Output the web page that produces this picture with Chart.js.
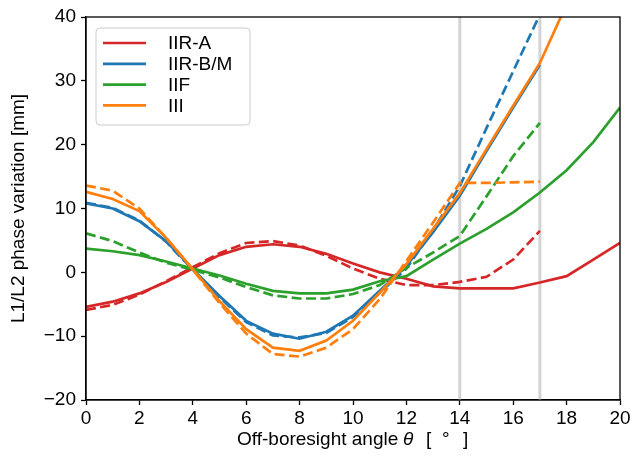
<!DOCTYPE html>
<html>
<head>
<meta charset="utf-8">
<script src="https://cdn.jsdelivr.net/npm/chart.js@4"></script>
<style>
    html, body { margin: 0; padding: 0; background: #fff; }
    #contenedor { width: 633px; height: 461px; }
</style>
</head>
<body>
<div id="contenedor"><canvas id="graficaFase"></canvas></div>
<script>
// angles in degrees
const angles = [0, 1, 2, 3, 4, 5, 6, 7, 8, 9, 10, 11, 12, 13, 14, 15, 16, 17, 18, 19, 20];

// solid = one curve, dashed = the other, per block type (mm)
const iirA      = [-5.4, -4.6, -3.3, -1.5, 0.6, 2.7, 4.0, 4.4, 4.0, 2.9, 1.4, 0.0, -1.0, -2.2, -2.5, -2.5, -2.5, -1.6, -0.6, 2.0, 4.6];
const iirADash  = [-5.9, -5.1, -3.5, -1.4, 0.8, 3.0, 4.6, 4.9, 4.2, 2.6, 0.6, -1.0, -2.0, -2.0, -1.5, -0.7, 2.0, 6.5];
const iirBM     = [10.8, 10.0, 8.0, 4.9, 0.5, -3.7, -7.6, -9.6, -10.4, -9.3, -6.8, -2.9, 1.0, 6.3, 12.0, 19.0, 25.8, 32.5];
const iirBMDash = [10.9, 10.1, 8.1, 4.8, 0.4, -3.9, -7.8, -9.9, -10.2, -9.5, -7.0, -3.2, 0.6, 6.6, 13.5, 22.6, 31.5, 40.4];
const iif       = [3.7, 3.3, 2.7, 1.7, 0.6, -0.5, -1.8, -2.9, -3.3, -3.3, -2.7, -1.4, -0.6, 2.0, 4.5, 6.8, 9.4, 12.5, 16.0, 20.4, 25.8];
const iifDash   = [6.1, 4.9, 3.1, 1.5, 0.4, -0.8, -2.3, -3.6, -4.1, -4.1, -3.4, -2.0, 0.7, 3.1, 5.7, 11.9, 18.2, 23.4];
const iii       = [12.6, 11.5, 9.6, 5.4, 0.5, -4.5, -8.9, -11.8, -12.3, -10.7, -7.6, -3.2, 1.3, 6.8, 12.4, 19.3, 26.1, 32.8, 42.0];
const iiiDash   = [13.6, 12.8, 10.0, 5.4, 0.4, -4.8, -9.6, -12.8, -13.2, -11.8, -8.9, -4.2, 1.8, 7.8, 14.0, 14.0, 14.1, 14.2];

const seriesLabels = ['IIR-A', 'IIR-B/M', 'IIF', 'III'];
const seriesColors = ['#d62728', '#1f77b4', '#2ca02c', '#ff7f0e'];

const markerAngles = [14, 17];
const xTicks = [0, 2, 4, 6, 8, 10, 12, 14, 16, 18, 20];
const yTicks = [-20, -10, 0, 10, 20, 30, 40];

const FONT = "'Liberation Sans', Arial, sans-serif";

function puntos(valores) {
    return valores.map((v, i) => ({ x: angles[i], y: v }));
}

const solidas = [iirA, iirBM, iif, iii];
const discontinuas = [iirADash, iirBMDash, iifDash, iiiDash];

const datasets = [];
markerAngles.forEach((a) => {
    datasets.push({
        label: '',
        data: [{ x: a, y: yTicks[0] }, { x: a, y: yTicks[yTicks.length - 1] }],
        borderColor: '#d3d3d3',
        borderWidth: 3,
        pointRadius: 0,
        order: 100
    });
});
seriesLabels.forEach((nombre, i) => {
    datasets.push({
        label: nombre,
        data: puntos(solidas[i]),
        borderColor: seriesColors[i],
        borderWidth: 2.7,
        pointRadius: 0,
        order: 20 - i * 2
    });
    datasets.push({
        label: nombre + ' (dashed)',
        data: puntos(discontinuas[i]),
        borderColor: seriesColors[i],
        borderWidth: 2.7,
        borderDash: [10, 4.4],
        pointRadius: 0,
        order: 19 - i * 2
    });
});

// legend box inside the plot, top left
const leyenda = {
    id: 'leyenda',
    afterDatasetsDraw(chart) {
        const ctx = chart.ctx;
        const x0 = chart.chartArea.left + 10;
        const y0 = chart.chartArea.top + 11;
        ctx.save();
        ctx.beginPath();
        ctx.roundRect(x0, y0, 154, 97, 4);
        ctx.fillStyle = 'rgba(255,255,255,0.8)';
        ctx.fill();
        ctx.strokeStyle = '#cccccc';
        ctx.lineWidth = 1;
        ctx.stroke();
        ctx.font = '19px ' + FONT;
        ctx.textBaseline = 'middle';
        ctx.fillStyle = '#000';
        seriesLabels.forEach((nombre, i) => {
            const y = y0 + 15 + i * 20.8;
            ctx.beginPath();
            ctx.moveTo(x0 + 7, y);
            ctx.lineTo(x0 + 50, y);
            ctx.strokeStyle = seriesColors[i];
            ctx.lineWidth = 2.7;
            ctx.stroke();
            ctx.fillText(nombre, x0 + 72, y + 1);
        });
        ctx.restore();
    }
};

// frame + x axis title with italic theta (mathtext-like spacing)
const marco = {
    id: 'marco',
    afterDraw(chart) {
        const ctx = chart.ctx;
        const a = chart.chartArea;
        ctx.save();
        ctx.strokeStyle = '#000';
        ctx.lineWidth = 1.3;
        ctx.strokeRect(a.left, a.top, a.right - a.left, a.bottom - a.top);

        const partes = [
            ['Off-boresight angle', 'normal', 0],
            ['θ', 'italic', 166],
            ['[', 'normal', 189],
            ['°', 'normal', 205],
            [']', 'normal', 226]
        ];
        const inicio = (a.left + a.right) / 2 - 116;
        ctx.textBaseline = 'middle';
        ctx.fillStyle = '#000';
        partes.forEach((p) => {
            ctx.font = p[1] + ' 19px ' + FONT;
            ctx.fillText(p[0], inicio + p[2], 440);
        });
        ctx.restore();
    }
};

new Chart(document.getElementById('graficaFase'), {
    type: 'line',
    data: { datasets: datasets },
    options: {
        responsive: true,
        maintainAspectRatio: false,
        animation: false,
        devicePixelRatio: 1,
        layout: { padding: { top: 17, right: 13, left: 0, bottom: 0 } },
        elements: { line: { tension: 0 } },
        datasets: { line: { clip: 0 } },
        plugins: {
            legend: { display: false },
            tooltip: { enabled: false }
        },
        scales: {
            x: {
                type: 'linear',
                min: xTicks[0],
                max: xTicks[xTicks.length - 1],
                afterBuildTicks: (s) => { s.ticks = xTicks.map((v) => ({ value: v })); },
                afterFit: (s) => { s.height = 61; },
                ticks: {
                    color: '#000',
                    font: { family: FONT, size: 19 },
                    padding: 2,
                    maxRotation: 0
                },
                grid: {
                    drawOnChartArea: false,
                    drawTicks: true,
                    tickLength: 5,
                    tickWidth: 1.3,
                    tickColor: '#000'
                },
                border: { color: '#000', width: 1.3 }
            },
            y: {
                type: 'linear',
                min: yTicks[0],
                max: yTicks[yTicks.length - 1],
                afterBuildTicks: (s) => { s.ticks = yTicks.map((v) => ({ value: v })); },
                afterFit: (s) => { s.width = 86; },
                ticks: {
                    color: '#000',
                    font: { family: FONT, size: 19 },
                    padding: 5,
                    callback: (v) => String(v).replace('-', '\u2212')
                },
                grid: {
                    drawOnChartArea: false,
                    drawTicks: true,
                    tickLength: 5,
                    tickWidth: 1.3,
                    tickColor: '#000'
                },
                border: { color: '#000', width: 1.3 },
                title: {
                    display: true,
                    text: 'L1/L2 phase variation [mm]',
                    color: '#000',
                    font: { family: FONT, size: 19 },
                    padding: { top: 7, bottom: 0 }
                }
            }
        }
    },
    plugins: [leyenda, marco]
});
</script>
</body>
</html>
